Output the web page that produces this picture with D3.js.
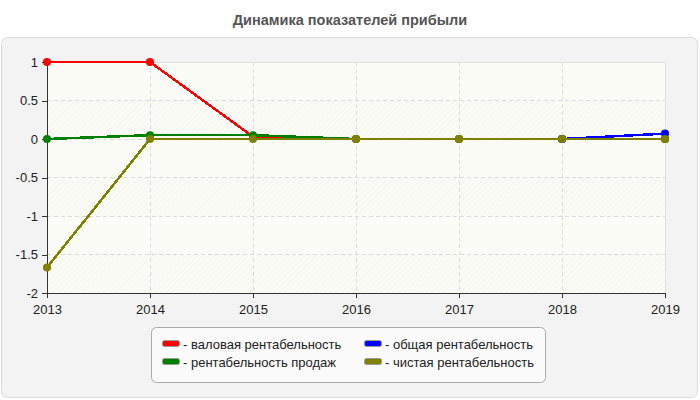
<!DOCTYPE html>
<html><head><meta charset="utf-8">
<script src="https://cdn.jsdelivr.net/npm/d3@7"></script>
<style>body{margin:0;background:#fff;font-family:"Liberation Sans",Arial,sans-serif;}</style>
</head><body><svg id="c" width="700" height="400"></svg>
<script>
const title = "Динамика показателей прибыли";
const years = [2013, 2014, 2015, 2016, 2017, 2018, 2019];
const yTicks = [-2, -1.5, -1, -0.5, 0, 0.5, 1];
const seriesNames = ["валовая рентабельность", "рентабельность продаж", "общая рентабельность", "чистая рентабельность"];
const seriesColors = ["#ff0000", "#008000", "#0000ff", "#808000"];
const grossMargin = [1, 1, 0.03, 0, 0, 0, 0];
const salesMargin = [0, 0.05, 0.05, 0, 0, 0, 0];
const totalMargin = [null, null, null, null, null, 0, 0.07];
const netMargin = [-1.67, 0, 0, 0, 0, 0, 0];
const seriesValues = [grossMargin, salesMargin, totalMargin, netMargin];

const svg = d3.select("#c");
const m = {l: 47, r: 665, t: 62, b: 293};

svg.append("text").attr("x", 350).attr("y", 25).attr("text-anchor", "middle")
  .attr("font-size", 14.5).attr("font-weight", "bold").attr("fill", "#555").text(title);

svg.append("rect").attr("x", 1.5).attr("y", 37.5).attr("width", 696).attr("height", 360)
  .attr("rx", 6).attr("fill", "#f3f3f3").attr("stroke", "#dcdcdc");

const x = d3.scaleLinear().domain([2013, 2019]).range([m.l, m.r]);
const y = d3.scaleLinear().domain([-2, 1]).range([m.b, m.t]);

const defs = svg.append("defs");
const pat = defs.append("pattern").attr("id", "hatch").attr("patternUnits", "userSpaceOnUse")
  .attr("width", 4).attr("height", 4).attr("patternTransform", "rotate(45)");
pat.append("rect").attr("width", 4).attr("height", 4).attr("fill", "#fcfcf6");
pat.append("line").attr("x1", 0).attr("y1", 0).attr("x2", 0).attr("y2", 4).attr("stroke", "#ecece6").attr("stroke-width", 1);

const bands = d3.pairs(yTicks);
svg.append("g").selectAll("rect").data(bands).join("rect")
  .attr("x", m.l).attr("width", m.r - m.l)
  .attr("y", d => y(d[1])).attr("height", d => y(d[0]) - y(d[1]))
  .attr("fill", (d, i) => i % 2 === 0 ? "url(#hatch)" : "#fcfcf6");

svg.append("rect").attr("x", m.l + 0.5).attr("y", m.t + 0.5).attr("width", m.r - m.l).attr("height", m.b - m.t)
  .attr("fill", "none").attr("stroke", "#e0e0e0");

const grid = svg.append("g").attr("stroke", "#dcdcdc").attr("stroke-dasharray", "4,3").attr("shape-rendering", "crispEdges");
grid.selectAll(".gx").data(years.slice(1, -1)).join("line")
  .attr("x1", d => x(d)).attr("x2", d => x(d)).attr("y1", m.t).attr("y2", m.b);
grid.selectAll(".gy").data(yTicks.slice(1, -1)).join("line")
  .attr("y1", d => y(d)).attr("y2", d => y(d)).attr("x1", m.l).attr("x2", m.r);

const xAxis = svg.append("g").attr("transform", `translate(0,${m.b})`)
  .call(d3.axisBottom(x).tickValues(years).tickFormat(d3.format("d")).tickSize(5).tickSizeOuter(0));
const yAxis = svg.append("g").attr("transform", `translate(${m.l},0)`)
  .call(d3.axisLeft(y).tickValues(yTicks).tickFormat(d => String(d)).tickSize(5).tickSizeOuter(0));
[xAxis, yAxis].forEach(a => {
  a.selectAll("path,line").attr("stroke", "#333").attr("shape-rendering", "crispEdges");
  a.selectAll("text").attr("font-size", 13).attr("fill", "#222").attr("font-family", "Liberation Sans, Arial, sans-serif");
});
xAxis.selectAll("text").attr("dy", "1em");
yAxis.selectAll("text").attr("dx", "-1px");

const line = d3.line().defined(d => d.v !== null).x(d => x(d.y)).y(d => y(d.v));
seriesValues.forEach((vals, i) => {
  const pts = years.map((yr, j) => ({y: yr, v: vals[j]}));
  const g = svg.append("g");
  g.append("path").datum(pts).attr("d", line).attr("fill", "none")
    .attr("stroke", seriesColors[i]).attr("stroke-width", 2.5).attr("shape-rendering", "crispEdges");
  g.selectAll("circle").data(pts.filter(d => d.v !== null)).join("circle")
    .attr("cx", d => x(d.y)).attr("cy", d => y(d.v)).attr("r", 4).attr("fill", seriesColors[i]);
});

const lg = svg.append("g");
lg.append("rect").attr("x", 151.5).attr("y", 327.5).attr("width", 394).attr("height", 55).attr("rx", 5)
  .attr("fill", "#fafafa").attr("stroke", "#aaa");
const colX = [162, 364];
const rowY = [340, 358];
const order = [0, 2, 1, 3];
order.forEach((idx, k) => {
  const col = colX[k % 2];
  const row = Math.floor(k / 2);
  lg.append("rect").attr("x", col + 0.5).attr("y", rowY[row] + 0.5).attr("width", 17).attr("height", 6).attr("rx", 2)
    .attr("fill", seriesColors[idx]).attr("stroke", "#999");
  lg.append("text").attr("x", col + 21).attr("y", rowY[row] + 8.5).attr("font-size", 13).attr("fill", "#222")
    .text("- " + seriesNames[idx]);
});
</script></body></html>
